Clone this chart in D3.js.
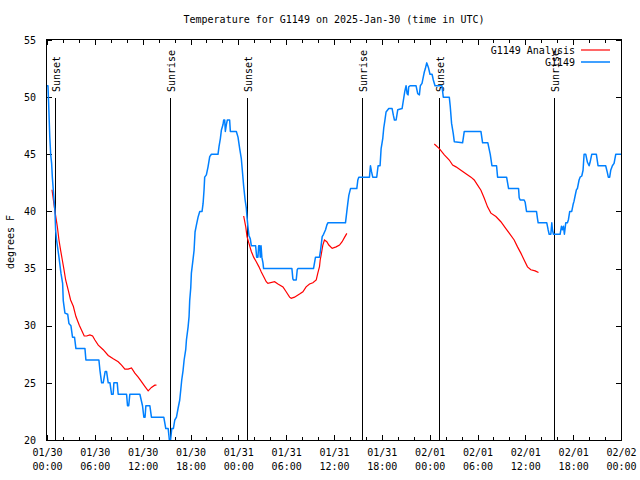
<!DOCTYPE html>
<html><head><meta charset="utf-8">
<script src="https://cdn.jsdelivr.net/npm/d3@7"></script>
<style>
body{margin:0;background:#fff}
svg{display:block}
text{font-family:"DejaVu Sans Mono",monospace;font-size:10px;fill:#000}
</style>
</head><body>
<svg id="c" width="640" height="480"></svg>
<script>
const chartTitle = "Temperature for G1149 on 2025-Jan-30 (time in UTC)";
const yLabel = "degrees F";
const seriesNames = ["G1149 Analysis", "G1149"];
const seriesColors = ["#ff0000", "#0080ff"];
const startUTC = Date.UTC(2025, 0, 30, 0, 0);
const endUTC = Date.UTC(2025, 1, 2, 0, 0);
const yTicks = [20, 25, 30, 35, 40, 45, 50, 55];

// Observed G1149 (hours since 01/30 00:00 UTC, deg F)
const obsHours = [0,0.12,0.2,0.35,0.46,0.58,0.67,0.88,1.0,1.08,1.2,1.5,1.75,1.96,2.04,2.25,2.6,2.75,3.0,3.2,3.45,3.63,4.76,4.88,6.51,6.64,6.85,7.05,7.3,7.47,7.68,7.9,8.1,8.3,8.39,8.81,8.93,9.98,10.1,10.25,10.39,11.65,11.98,12.15,12.3,12.4,12.9,13.1,14.65,14.9,15.2,15.35,15.5,15.65,15.85,16.03,16.24,16.45,16.65,16.78,16.9,17.07,17.2,17.4,17.49,17.7,17.82,17.9,18.03,18.11,18.3,18.45,18.57,18.74,18.95,19.16,19.45,19.58,19.7,19.78,19.99,20.2,20.41,20.62,21.45,21.58,21.75,21.87,22.08,22.16,22.29,22.37,22.5,22.62,22.91,23.0,23.75,23.96,24.17,24.37,24.5,24.67,24.85,25.0,25.09,25.2,25.33,25.5,25.63,26.17,26.3,26.46,26.55,26.67,26.75,26.85,26.95,27.09,27.17,30.72,30.84,30.93,31.26,31.39,31.47,33.43,33.68,34.18,34.31,34.52,34.69,34.94,35.1,35.23,37.44,37.61,37.73,37.86,38.07,38.86,38.99,39.11,40.45,40.57,40.7,40.86,41.36,41.53,41.78,41.91,42.12,42.24,42.37,42.53,42.87,43.29,43.45,43.58,43.79,44.0,44.54,44.71,44.88,45.04,45.17,45.29,45.37,45.54,46.29,46.5,46.71,46.83,47.04,47.21,47.33,47.46,47.63,47.84,48.04,48.3,48.46,48.67,49.54,49.71,50.46,50.58,50.75,50.96,51.09,52.13,52.34,54.43,54.64,55.3,55.39,55.6,55.81,56.39,56.52,57.65,57.9,59.15,59.23,59.35,59.85,59.98,60.15,61.4,61.52,61.61,62.69,62.86,62.99,63.2,63.32,63.4,63.53,64.36,64.53,64.65,64.78,64.9,65.07,65.28,65.41,65.57,65.82,65.99,66.11,66.24,66.41,66.53,66.74,66.87,67.08,67.24,67.37,67.58,67.79,68.0,68.12,68.33,68.91,69.12,70.08,70.29,70.41,70.58,70.71,70.92,71.13,71.34,72];
const obsTemps = [51,51,49.6,46.5,45,44.2,43,41,40,38.4,37.5,36,34.6,33.7,32.2,31.1,31,30.2,30,29,29,28,28,27,27,26.1,25,25,26,26,25,25,24,24,25,25,24,24,23,23,24,24,23,22,22,23,23,22,22,21,21,20,20,21,21,21.75,22,22.8,23.5,24.4,25.25,26.1,27,27.9,28.75,29.9,30.8,32.2,33.3,34.6,35.7,36.6,38.2,38.8,39.5,40,40,40.7,41.9,43,43.2,43.9,44.8,45,45,45.7,46.4,47.1,47.6,48,48,47,47.6,48,48,47,47,46.5,45.5,44.65,43.6,42.2,41,40.3,39.5,38.7,37.9,37.6,37,37,36,36,37,37,36,37,36,35.5,35,35,34.1,34,34,34.9,35,35,36,36,36.6,37.8,38,38.4,38.8,39,39,40,40.7,41.4,42,42,42.75,43,43,44,43.5,43,43,44,44,45.5,46.4,47.3,47.9,48.7,49,49,48.4,48,48,48.9,49,49.75,50.5,51,50.3,50.2,50.9,51,51,50.3,50.2,51,51.2,51.8,52.2,52.5,53,52.6,52,52,51.5,51,51,50,50,49.2,47.7,46.8,46.1,46,47,47,46,46,45.7,45,44,44,43,43,42,42,41.2,41,41,40.8,40,40,39.4,39,39,38.4,38,38,39,38.4,38,38,38.7,38.4,38.7,38,39,39,39.3,40,40,40.6,40.9,41.35,41.9,42,42.75,43,43.1,43.6,45,45,44.3,44,44.3,45,45,44,44,43.4,43,43,43.6,44,44.2,45,45];

// G1149 Analysis (three runs)
const anaHours1 = [0.63,1.0,1.29,1.5,1.71,1.92,2.13,2.34,2.67,2.96,3.3,3.63,4.05,4.34,4.67,4.97,5.38,5.72,6.01,6.43,7.05,7.68,8.31,8.93,9.35,9.77,10.18,10.6,11.02,11.44,11.85,12.27,12.69,13.1,13.52,13.73];
const anaTemps1 = [41.9,40.0,38.7,37.5,36.6,35.75,34.9,34.0,33.1,32.25,31.7,30.8,30.05,29.6,29.1,29.1,29.2,29.1,28.75,28.3,27.9,27.4,27.1,26.85,26.55,26.2,26.2,26.3,25.85,25.5,25.1,24.7,24.3,24.6,24.8,24.8];
const anaHours2 = [24.67,24.92,25.09,25.33,25.63,25.92,26.25,26.59,26.88,27.17,27.5,27.71,28.55,28.97,29.6,30.0,30.43,30.63,31.05,31.68,32.1,32.5,32.93,33.35,33.77,33.97,34.18,34.27,34.39,34.6,34.8,35.1,35.35,35.77,36.27,36.69,37.02,37.32,37.61];
const anaTemps2 = [39.6,38.7,37.8,37.2,36.5,36.0,35.6,35.15,34.7,34.3,33.85,33.7,33.85,33.65,33.4,32.97,32.5,32.4,32.5,32.77,32.97,33.4,33.65,33.76,34.0,34.6,35.16,35.75,36.2,37.06,37.5,37.35,37.06,36.77,36.9,37.06,37.35,37.73,38.08];
const anaHours3 = [48.58,49.21,49.84,50.46,50.88,51.3,51.92,52.55,53.18,53.59,54.01,54.43,54.85,55.26,55.68,56.31,56.93,57.56,57.98,58.6,59.02,59.44,59.85,60.27,60.69,61.23,61.65];
const anaTemps3 = [45.9,45.5,44.95,44.5,44.05,43.9,43.6,43.3,43.0,42.75,42.3,41.85,41.15,40.4,39.85,39.55,39.1,38.5,38.1,37.5,36.9,36.35,35.75,35.15,34.9,34.8,34.65];

// Sunset / sunrise (hours since 01/30 00:00 UTC)
const sunHours = [1.03, 15.4, 25.08, 39.5, 49.12, 63.55];
const sunLabels = ["Sunset", "Sunrise", "Sunset", "Sunrise", "Sunset", "Sunrise"];

const toDate = h => new Date(startUTC + h * 3600e3);

const L = 47, R = 621, T = 40, B = 440;
const svg = d3.select("#c");
const x = d3.scaleUtc().domain([new Date(startUTC), new Date(endUTC)]).range([L, R]);
const y = d3.scaleLinear().domain([20, 55]).range([B, T]);

const majorTicks = d3.utcHour.every(6).range(new Date(startUTC), new Date(endUTC + 1));
const minorTicks = d3.utcHour.every(2).range(new Date(startUTC), new Date(endUTC + 1));

// title
svg.append("text").attr("x", (L + R) / 2).attr("y", 23).attr("text-anchor", "middle").text(chartTitle);
// y label
svg.append("text").attr("transform", "translate(14,242) rotate(-90)").attr("text-anchor", "middle").text(yLabel);

function styleAxis(g) {
  g.select(".domain").remove();
  g.selectAll(".tick line").attr("stroke", "#000").attr("shape-rendering", "crispEdges");
}
// minor ticks
svg.append("g").attr("transform", `translate(0,${B})`)
  .call(d3.axisBottom(x).tickValues(minorTicks).tickSize(-3).tickFormat(""))
  .call(styleAxis);
svg.append("g").attr("transform", `translate(0,${T})`)
  .call(d3.axisTop(x).tickValues(minorTicks).tickSize(-3).tickFormat(""))
  .call(styleAxis);
// major ticks + labels
const fmtD = d3.utcFormat("%m/%d"), fmtT = d3.utcFormat("%H:%M");
const xb = svg.append("g").attr("transform", `translate(0,${B})`)
  .call(d3.axisBottom(x).tickValues(majorTicks).tickSize(-5).tickPadding(0).tickFormat(""))
  .call(styleAxis);
xb.selectAll(".tick").each(function(d) {
  const t = d3.select(this).append("text").attr("text-anchor", "middle").attr("fill", "#000");
  t.append("tspan").attr("x", 0).attr("y", 16).text(fmtD(d));
  t.append("tspan").attr("x", 0).attr("y", 30).text(fmtT(d));
});
svg.append("g").attr("transform", `translate(0,${T})`)
  .call(d3.axisTop(x).tickValues(majorTicks).tickSize(-5).tickFormat(""))
  .call(styleAxis);
const yl = svg.append("g").attr("transform", `translate(${L},0)`)
  .call(d3.axisLeft(y).tickValues(yTicks).tickSize(-5).tickPadding(11).tickFormat(d3.format("d")))
  .call(styleAxis);
yl.selectAll(".tick text").attr("font-family", '"DejaVu Sans Mono",monospace').attr("font-size", 10).attr("fill", "#000");
svg.append("g").attr("transform", `translate(${R},0)`)
  .call(d3.axisRight(y).tickValues(yTicks).tickSize(-5).tickFormat(""))
  .call(styleAxis);

// sun lines
const sun = svg.append("g");
sunHours.forEach((h, i) => {
  const sx = Math.round(x(toDate(h))) + 0.5;
  sun.append("line").attr("x1", sx).attr("x2", sx).attr("y1", 98).attr("y2", B)
    .attr("stroke", "#000").attr("stroke-width", 1);
  sun.append("text").attr("transform", `translate(${sx + 4.5},92) rotate(-90)`).attr("text-anchor", "start").text(sunLabels[i]);
});

// series
const line = d3.line().x(d => x(toDate(d[0]))).y(d => y(d[1]));
[[anaHours1, anaTemps1], [anaHours2, anaTemps2], [anaHours3, anaTemps3]].forEach(([hs, ts]) => {
  svg.append("path").datum(d3.zip(hs, ts)).attr("fill", "none").attr("stroke", seriesColors[0])
    .attr("stroke-width", 1.2).attr("d", line);
});
svg.append("path").datum(d3.zip(obsHours, obsTemps)).attr("fill", "none").attr("stroke", seriesColors[1])
  .attr("stroke-width", 1.5).attr("stroke-linejoin", "round").attr("d", line);

// frame
svg.append("rect").attr("x", L - 0.5).attr("y", T - 0.5).attr("width", R - L + 1).attr("height", B - T + 1)
  .attr("fill", "none").attr("stroke", "#000").attr("shape-rendering", "crispEdges");

// legend
const lg = svg.append("g");
seriesNames.forEach((n, i) => {
  const ly = 50 + i * 12;
  lg.append("text").attr("x", 575).attr("y", ly + 3.5).attr("text-anchor", "end").text(n);
  lg.append("line").attr("x1", 581).attr("x2", 610).attr("y1", ly).attr("y2", ly)
    .attr("stroke", seriesColors[i]).attr("stroke-width", i ? 1.5 : 1.2);
});
</script>
</body></html>
